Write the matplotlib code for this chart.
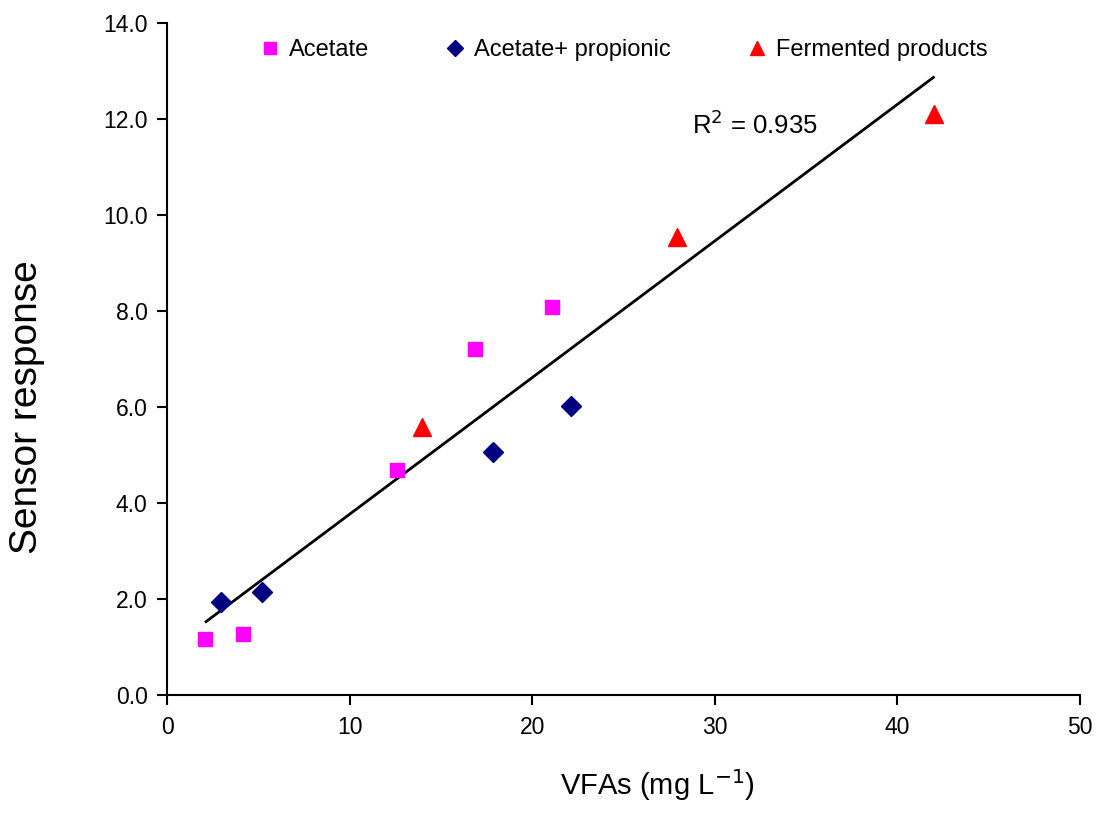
import matplotlib
matplotlib.use("Agg")
import matplotlib.pyplot as plt

plt.rcParams['font.family'] = ['Liberation Sans', 'DejaVu Sans']

# Acetate
acetate_x = [2.08, 4.18, 12.58, 16.87, 21.07]
acetate_y = [1.16, 1.28, 4.69, 7.20, 8.07]
# Acetate + propionic
prop_x = [2.96, 5.18, 17.87, 22.10]
prop_y = [1.94, 2.15, 5.05, 6.02]
# Fermented products
ferm_x = [13.98, 27.93, 42.0]
ferm_y = [5.59, 9.54, 12.10]

# linear trend line
trend_x = [2.14, 41.97]
trend_slope = 0.2845
trend_int = 0.92
r2_text = "R$^2$ = 0.935"

x_ticks = [0, 10, 20, 30, 40, 50]
y_ticks = [0, 2, 4, 6, 8, 10, 12, 14]

fig = plt.figure(figsize=(11.01, 8.27), dpi=100)
ax = fig.add_axes([0.1517, 0.1596, 0.8293, 0.813])

ty = [trend_slope * x + trend_int for x in trend_x]
ax.plot(trend_x, ty, color="black", lw=2, zorder=2)

ax.plot(acetate_x, acetate_y, ls="none", marker="s", ms=10, color="#ff00ff",
        mec="#ff00ff", label="Acetate", zorder=3)
ax.plot(prop_x, prop_y, ls="none", marker="D", ms=10.5, color="#000080",
        mec="#000080", label="Acetate+ propionic", zorder=3)
ax.plot(ferm_x, ferm_y, ls="none", marker="^", ms=13, color="#ff0000",
        mec="#ff0000", label="Fermented products", zorder=3)

ax.text(28.75, 11.87, r2_text, fontsize=18.5, va="center", ha="left")

ax.set_xlim(0, 50)
ax.set_ylim(0, 14)
ax.set_xticks(x_ticks)
ax.set_yticks(y_ticks)
ax.set_yticklabels([f"{v:.1f}" for v in y_ticks])
ax.tick_params(axis="both", direction="out", length=7, width=1.5, labelsize=16.5)
ax.tick_params(axis="y", pad=7)
ax.tick_params(axis="x", pad=8)
for s in ["top", "right"]:
    ax.spines[s].set_visible(False)
for s in ["left", "bottom"]:
    ax.spines[s].set_linewidth(1.5)

ax.set_xlabel("VFAs (mg L$^{-1}$)", fontsize=21)
ax.xaxis.set_label_coords(0.537, -0.134)
ax.xaxis.label.set_va("center")
ax.set_ylabel("Sensor response", fontsize=28)
ax.yaxis.set_label_coords(-0.153, 0.428)
ax.yaxis.label.set_va("center")

leg = ax.legend(ncol=3, loc="upper left", bbox_to_anchor=(0.105, 0.976), frameon=False,
                fontsize=17, markerscale=0.8, handlelength=0.6, handletextpad=0.5,
                columnspacing=3.35, borderpad=0, borderaxespad=0)

fig.savefig("out.png", dpi=100)
